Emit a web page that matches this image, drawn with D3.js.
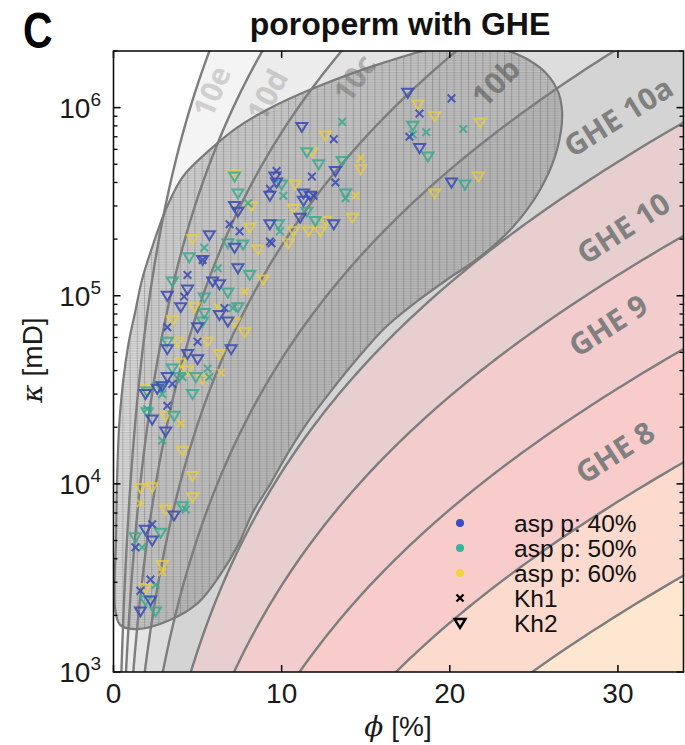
<!DOCTYPE html>
<html><head><meta charset="utf-8">
<script src="https://cdn.jsdelivr.net/npm/d3@7"></script>
<style>body{margin:0;background:#fff}svg{display:block}</style>
</head><body>
<svg id="c" width="685" height="745"></svg>
<script>
// ---------- data ----------
const xDomain = [0, 33.9];
const yDomain = [1e3, 2e6];
const xTicks = [0, 10, 20, 30];
const yTicks = [1e3, 1e4, 1e5, 1e6];
const yTickExp = ["3", "4", "5", "6"];
// GHE boundaries (flow zone indicator, FZI)
const fziBounds = [6, 12, 24, 48, 96, 192, 384, 768, 1536, 3072];
const zoneColors = ["#fde7d0", "#fcdacd", "#f9cccc", "#f3cdcd", "#e7cfd0", "#d4d4d4", "#dddddd", "#e4e4e4", "#ececec", "#f4f4f4", "#ffffff"];
const zoneLabels = ["GHE 8", "GHE 9", "GHE 10", "GHE 10a", "10b", "10c", "10d", "10e"];
const labelPos = [[29.8, 1.48e4], [29.4, 7.0e4], [30.3, 2.3e5], [30.0, 9.0e5], [22.7, 1.37e6], [14.3, 1.44e6], [9.1, 1.17e6], [5.8, 1.22e6]];
const labelAngle = [-33, -33, -33, -32, -45, -55, -62, -67];
const labelColor = ["#808080", "#808080", "#808080", "#808080", "#8a8a8a", "#b0b0b0", "#c9c9c9", "#d0d0d0"];
// outline of the hatched envelope [phi %, k mD]
const envelope = [[0.15,5.04e3],[0.21,1.05e4],[0.39,2.39e4],[0.86,5.36e4],[1.28,8.13e4],[1.70,1.22e5],[2.35,1.87e5],[3.18,2.97e5],[4.13,4.30e5],[5.74,5.98e5],[7.35,7.83e5],[9.13,9.75e5],[12.11,1.29e6],[16.03,1.73e6],[19.72,2.11e6],[22.99,2.06e6],[25.37,1.63e6],[26.38,1.25e6],[26.68,9.52e5],[26.38,5.98e5],[25.37,3.66e5],[23.77,2.33e5],[21.80,1.61e5],[19.84,1.22e5],[17.94,9.18e4],[16.15,6.76e4],[14.54,4.68e4],[12.99,3.16e4],[11.57,2.14e4],[10.32,1.43e4],[9.19,9.53e3],[8.30,7.10e3],[7.41,4.74e3],[6.34,3.28e3],[5.03,2.33e3],[3.36,1.89e3],[1.40,1.69e3],[0.39,1.78e3],[0.09,2.19e3]];
// samples: [phi %, k mD]
const kh2_40 = [[17.5,1.2e6],[11.2,7.9e5],[18.2,6.1e5],[20.1,4.0e5],[13.2,4.6e5],[9.6,4.3e5],[9.3,3.4e5],[11.3,3.5e5],[11.7,3.4e5],[11.3,3.2e5],[11.1,2.6e5],[13.1,2.4e5],[9.3,2.4e5],[9.7,4.0e5],[7.2,3.0e5],[7.4,2.8e5],[5.7,2.1e5],[7.2,1.8e5],[5.3,1.55e5],[7.4,1.4e5],[5.9,1.19e5],[6.3,1.15e5],[3.2,1.0e5],[4.4,1.08e5],[4.0,8.7e4],[6.3,7.9e4],[6.8,7.3e4],[5.0,6.8e4],[3.2,5.2e4],[7.0,5.2e4],[4.4,4.9e4],[5.0,4.6e4],[3.2,3.7e4],[2.6,3.2e4],[1.9,3.0e4],[2.9,3.3e4],[2.3,2.2e4],[3.1,1.9e4],[3.6,6.8e3],[1.9,5.7e3],[2.3,5.0e3],[2.2,2.4e3],[1.6,2.1e3]];
const kh1_40 = [[18.2,9.3e5],[20.1,1.12e6],[17.6,7.0e5],[13.1,6.8e5],[11.8,4.3e5],[13.2,4.0e5],[9.7,4.6e5],[9.3,3.7e5],[11.9,3.4e5],[9.4,1.9e5],[6.9,2.4e5],[7.5,2.2e5],[9.3,1.94e5],[5.3,1.55e5],[4.4,1.29e5],[4.2,9.9e4],[6.6,8.6e4],[3.2,6.8e4],[5.0,5.7e4],[3.5,3.4e4],[3.2,2.6e4],[2.3,6.1e3],[1.3,4.6e3],[2.2,3.1e3],[1.6,2.7e3]];
const kh2_50 = [[17.8,8.0e5],[18.7,5.5e5],[20.9,3.9e5],[11.5,5.8e5],[12.2,5.0e5],[13.6,5.2e5],[13.8,3.5e5],[11.5,2.8e5],[12.0,2.5e5],[9.8,2.4e5],[7.4,3.5e5],[7.2,4.3e5],[10.0,3.9e5],[6.8,1.9e5],[7.7,1.87e5],[4.5,1.6e5],[8.1,1.29e5],[3.5,1.19e5],[5.4,9.8e4],[5.4,8.1e4],[5.3,7.3e4],[3.2,5.7e4],[3.5,4.1e4],[3.9,3.7e4],[2.8,3.3e4],[4.7,3.0e4],[2.0,3.1e4],[4.9,3.7e4],[2.0,2.4e4],[3.6,2.3e4],[4.1,7.6e3],[2.8,5.5e3],[2.5,2.1e3],[6.8,1.04e5],[1.3,5.2e3],[1.9,2.4e3],[7.4,8.7e4]];
const kh1_50 = [[13.6,8.4e5],[18.6,7.4e5],[20.8,7.7e5],[17.8,7.2e5],[13.8,3.3e5],[10.1,3.4e5],[9.9,2.2e5],[8.0,3.1e5],[5.4,1.8e5],[6.2,1.4e5],[7.1,8.6e4],[4.1,3.7e4],[5.7,3.7e4],[2.0,2.5e4],[2.9,1.7e4],[4.3,7.3e3],[1.7,4.6e3],[2.5,2.9e3],[5.6,4.1e4],[2.9,3.0e4]];
const kh2_60 = [[18.1,1.04e6],[19.1,9.0e5],[21.8,8.3e5],[21.7,4.3e5],[19.1,3.5e5],[12.6,7.1e5],[11.8,5.8e5],[14.7,4.7e5],[10.8,3.9e5],[10.7,2.9e5],[11.6,2.2e5],[12.3,2.2e5],[14.2,2.6e5],[12.6,2.5e5],[10.7,2.2e5],[10.4,1.9e5],[7.2,4.4e5],[8.2,3.0e5],[8.1,2.3e5],[4.7,2.0e5],[8.6,1.76e5],[8.9,1.22e5],[4.8,8.7e4],[3.5,7.4e4],[7.2,7.2e4],[7.8,6.4e4],[5.6,5.7e4],[3.8,5.7e4],[6.3,4.9e4],[4.0,4.4e4],[5.3,3.6e4],[4.4,4.0e4],[2.0,3.2e4],[3.1,2.3e4],[4.1,1.5e4],[4.7,1.1e4],[2.3,9.6e3],[1.6,9.5e3],[4.7,8.5e3],[3.1,7.3e3],[2.9,3.7e3],[1.9,2.8e3]];
const kh1_60 = [[14.7,5.4e5],[14.4,3.4e5],[7.8,1.05e5],[6.2,8.7e4],[6.4,3.9e4],[4.0,2.1e4],[1.6,7.9e3],[2.9,3.4e3]];
const legendLabels = ["asp p: 40%", "asp p: 50%", "asp p: 60%", "Kh1", "Kh2"];

// ---------- styles ----------
const cBlue = "#3d4fb4", cTeal = "#39a98f", cYellow = "#ebcf3a";
const legendDot = ["#3a4cc2", "#36b49c", "#f5d23c"];

const svg = d3.select("#c");
const M = {l: 113.5, r: 683.5, t: 51, b: 672};
const x = d3.scaleLinear().domain(xDomain).range([M.l, M.r]);
const y = d3.scaleLog().domain(yDomain).range([M.b, M.t]);

const defs = svg.append("defs");
defs.append("clipPath").attr("id", "clip").append("rect")
  .attr("x", M.l).attr("y", M.t).attr("width", M.r - M.l).attr("height", M.b - M.t);
const pat = defs.append("pattern").attr("id", "hatch").attr("patternUnits", "userSpaceOnUse")
  .attr("width", 7.2).attr("height", 7.2);
pat.append("rect").attr("width", 7.2).attr("height", 7.2).attr("fill", "rgba(110,110,110,0.25)");
[0.6, 3.0, 5.4].forEach(v => pat.append("line").attr("x1", 0).attr("x2", 7.2).attr("y1", v).attr("y2", v)
  .attr("stroke", "rgba(60,60,60,0.2)").attr("stroke-width", 1));
pat.append("line").attr("x1", 0.5).attr("x2", 0.5).attr("y1", 0).attr("y2", 7.2)
  .attr("stroke", "rgba(60,60,60,0.26)").attr("stroke-width", 1);

const plot = svg.append("g").attr("clip-path", "url(#clip)");

// Kozeny-Carman relation for a given FZI
const kOf = (phi, F) => { const p = phi / 100; return 1014 * F * F * p * p * p / ((1 - p) * (1 - p)); };
const clampK = k => Math.max(1e2, Math.min(1e8, k));
const phiS = [0].concat(d3.range(500).map(i => 0.05 * Math.pow(36 / 0.05, i / 499)));

plot.append("rect").attr("x", M.l).attr("y", M.t).attr("width", M.r - M.l).attr("height", M.b - M.t)
  .attr("fill", zoneColors[0]);
const area = F => d3.area().x(d => x(d)).y0(y(yDomain[1]) - 5).y1(d => y(clampK(kOf(d, F))))(phiS);
fziBounds.forEach((F, i) => {
  plot.append("path").attr("d", area(F)).attr("fill", zoneColors[i + 1]);
});

// zone labels
zoneLabels.forEach((t, i) => {
  plot.append("text").attr("transform", `translate(${x(labelPos[i][0])},${y(labelPos[i][1])}) rotate(${labelAngle[i]})`)
    .attr("text-anchor", "middle").attr("dominant-baseline", "central")
    .attr("font-family", "'Open Sans', 'Noto Sans', sans-serif").attr("font-weight", "bold")
    .attr("font-size", 30).attr("fill", labelColor[i]).text(t);
});

// envelope fill
const envLine = d3.line().x(d => x(d[0])).y(d => y(d[1])).curve(d3.curveCatmullRomClosed.alpha(0.5));
plot.append("path").attr("d", envLine(envelope)).attr("fill", "url(#hatch)").attr("stroke", "none");

// boundary curves
const curve = F => d3.line().x(d => x(d)).y(d => y(clampK(kOf(d, F))))(phiS);
fziBounds.forEach(F => {
  plot.append("path").attr("d", curve(F)).attr("fill", "none").attr("stroke", "#7d7d7d").attr("stroke-width", 2.4);
});

plot.append("path").attr("d", envLine(envelope)).attr("fill", "none").attr("stroke", "#7a7a7a").attr("stroke-width", 2.2);

// markers
const triPath = "M-5.5,-4L5.5,-4L0,5Z";
const xPath = "M-3.8,-3.8L3.8,3.8M-3.8,3.8L3.8,-3.8";
function drawSet(data, path, color, op) {
  plot.append("g").selectAll("path").data(data).join("path")
    .attr("transform", d => `translate(${x(d[0])},${y(d[1])})`)
    .attr("d", path).attr("fill", "none").attr("stroke", color)
    .attr("stroke-width", 2).attr("stroke-opacity", op);
}
drawSet(kh2_60, triPath, cYellow, 0.75);
drawSet(kh1_60, xPath, cYellow, 0.75);
drawSet(kh2_50, triPath, cTeal, 0.85);
drawSet(kh1_50, xPath, cTeal, 0.85);
drawSet(kh2_40, triPath, cBlue, 0.9);
drawSet(kh1_40, xPath, cBlue, 0.9);

// ---------- axes ----------
const ax = svg.append("g");
const tickStroke = "#000";
xTicks.forEach(v => {
  ax.append("line").attr("x1", x(v)).attr("x2", x(v)).attr("y1", M.b).attr("y2", M.b - 7).attr("stroke", tickStroke).attr("stroke-width", 1.5);
  ax.append("line").attr("x1", x(v)).attr("x2", x(v)).attr("y1", M.t).attr("y2", M.t + 7).attr("stroke", tickStroke).attr("stroke-width", 1.5);
  ax.append("text").attr("x", x(v)).attr("y", 703).attr("text-anchor", "middle")
    .attr("font-family", "'Liberation Sans', Arial, sans-serif").attr("font-size", 28).attr("fill", "#1a1a1a").text(v);
});
const minor = [];
for (let e = 3; e <= 6; e++) for (let mm = 2; mm <= 9; mm++) { const v = mm * Math.pow(10, e); if (v <= yDomain[1]) minor.push(v); }
minor.forEach(v => {
  ax.append("line").attr("x1", M.l).attr("x2", M.l + 4).attr("y1", y(v)).attr("y2", y(v)).attr("stroke", tickStroke).attr("stroke-width", 1.3);
  ax.append("line").attr("x1", M.r).attr("x2", M.r - 4).attr("y1", y(v)).attr("y2", y(v)).attr("stroke", tickStroke).attr("stroke-width", 1.3);
});
yTicks.forEach((v, i) => {
  ax.append("line").attr("x1", M.l).attr("x2", M.l + 7).attr("y1", y(v)).attr("y2", y(v)).attr("stroke", tickStroke).attr("stroke-width", 1.5);
  ax.append("line").attr("x1", M.r).attr("x2", M.r - 7).attr("y1", y(v)).attr("y2", y(v)).attr("stroke", tickStroke).attr("stroke-width", 1.5);
  const t = ax.append("text").attr("x", 101).attr("y", y(v) + 10).attr("text-anchor", "end")
    .attr("font-family", "'Liberation Sans', Arial, sans-serif").attr("font-size", 28).attr("fill", "#1a1a1a");
  t.append("tspan").text("10");
  t.append("tspan").attr("dy", -12).attr("font-size", 19).text(yTickExp[i]);
});
ax.append("rect").attr("x", M.l).attr("y", M.t).attr("width", M.r - M.l).attr("height", M.b - M.t)
  .attr("fill", "none").attr("stroke", "#111").attr("stroke-width", 1.6);

// axis labels
const xl = svg.append("text").attr("x", 398).attr("y", 736).attr("text-anchor", "middle")
  .attr("font-family", "'Liberation Sans', Arial, sans-serif").attr("font-size", 28).attr("fill", "#1a1a1a");
xl.append("tspan").attr("font-family", "'DejaVu Serif', serif").attr("font-style", "italic").text("ϕ");
xl.append("tspan").text(" [%]");
const yl = svg.append("text").attr("transform", "translate(42,360) rotate(-90)").attr("text-anchor", "middle")
  .attr("font-family", "'Liberation Sans', Arial, sans-serif").attr("font-size", 28).attr("fill", "#1a1a1a");
yl.append("tspan").attr("font-family", "'DejaVu Serif', serif").attr("font-style", "italic").text("κ");
yl.append("tspan").text(" [mD]");

// title & panel letter
svg.append("text").attr("x", 400).attr("y", 35).attr("text-anchor", "middle")
  .attr("font-family", "'Liberation Sans', Arial, sans-serif").attr("font-weight", "bold").attr("font-size", 32)
  .attr("fill", "#111").text("poroperm with GHE");
svg.append("text").attr("transform", "translate(23,48) scale(0.82,1)")
  .attr("font-family", "'Liberation Sans', Arial, sans-serif").attr("font-weight", "bold").attr("font-size", 50)
  .attr("fill", "#000").text("C");

// legend
const lg = svg.append("g");
const rows = [523, 548, 573, 598, 623];
legendLabels.forEach((t, i) => {
  const cy = rows[i];
  if (i < 3) lg.append("circle").attr("cx", 460).attr("cy", cy).attr("r", 4).attr("fill", legendDot[i]);
  else if (i === 3) lg.append("path").attr("transform", `translate(460,${cy})`).attr("d", "M-3.5,-3.5L3.5,3.5M-3.5,3.5L3.5,-3.5").attr("stroke", "#000").attr("stroke-width", 2.2).attr("fill", "none");
  else lg.append("path").attr("transform", `translate(460,${cy})`).attr("d", "M-5.5,-4L5.5,-4L0,5Z").attr("stroke", "#000").attr("stroke-width", 2.4).attr("fill", "none");
  lg.append("text").attr("x", 514).attr("y", cy + 8.5).attr("font-family", "'Liberation Sans', Arial, sans-serif")
    .attr("font-size", 24.5).attr("fill", "#111").text(t);
});
</script>
</body></html>
